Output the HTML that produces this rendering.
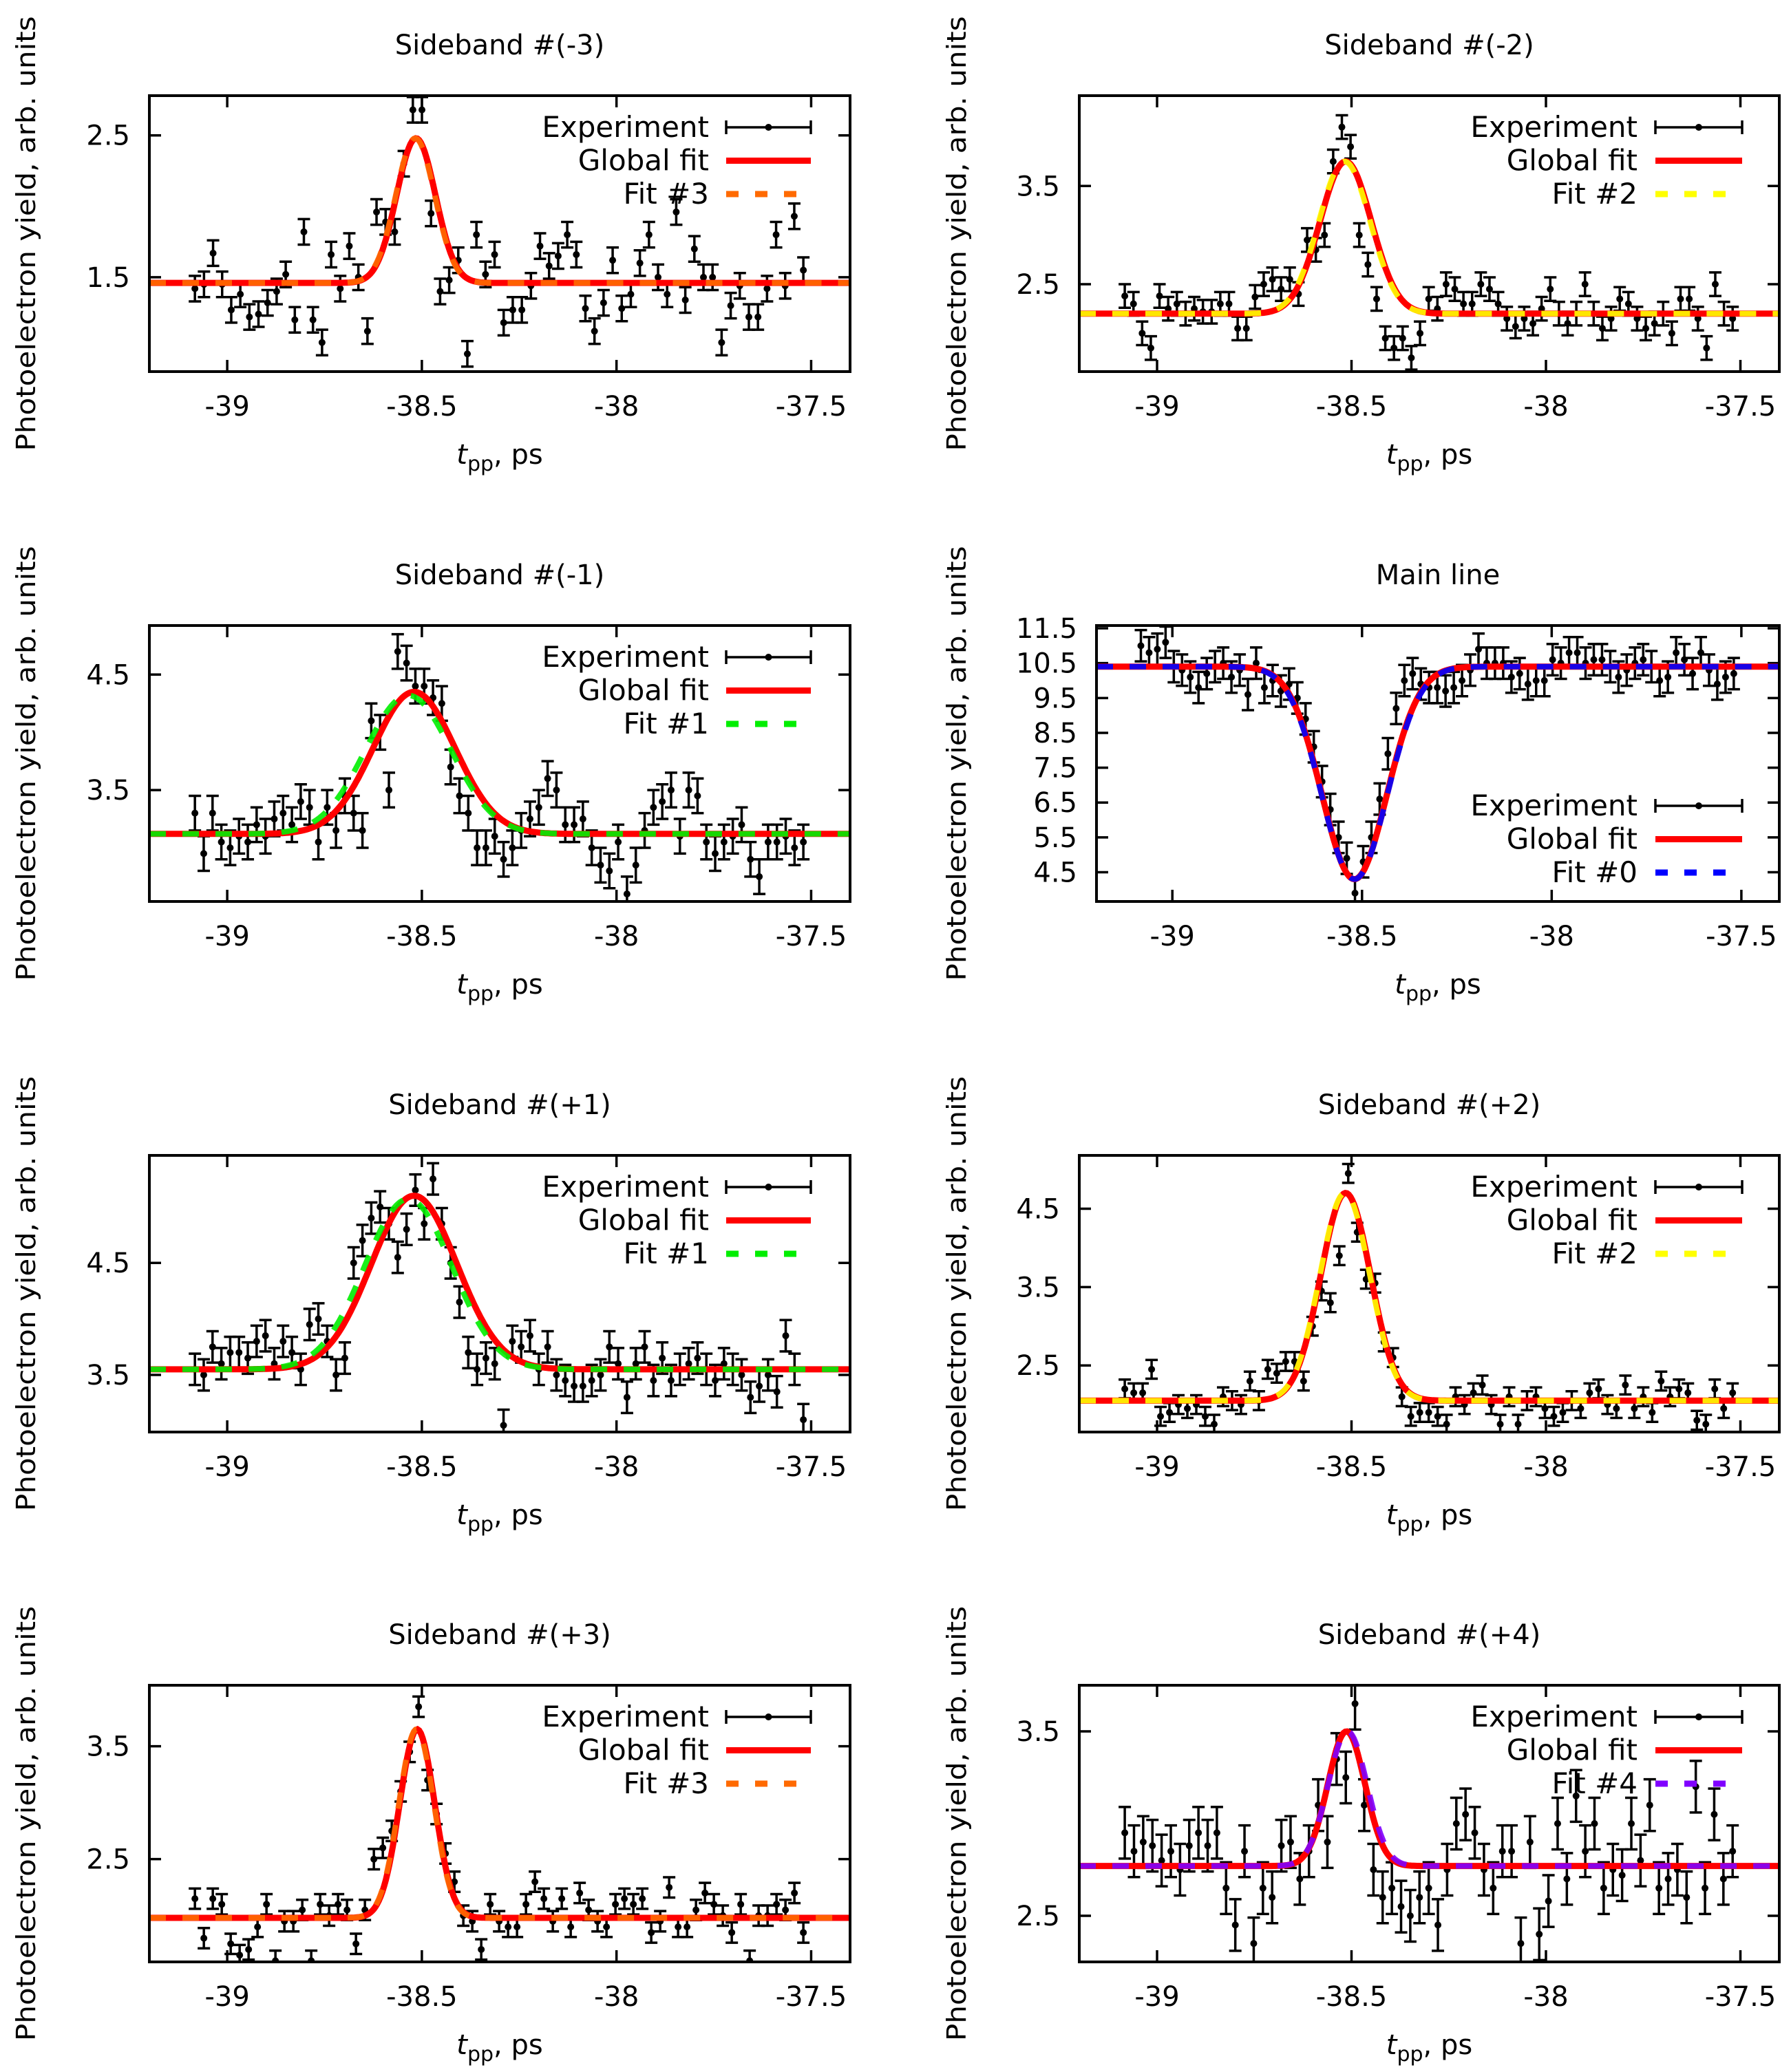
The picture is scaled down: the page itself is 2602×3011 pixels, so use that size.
<!DOCTYPE html>
<html><head><meta charset="utf-8"><title>Sideband fits</title>
<style>
html,body{margin:0;padding:0;background:#fff;}
svg{display:block;font-family:"DejaVu Sans","Liberation Sans",sans-serif;}
</style></head>
<body>
<svg id="fig" width="2602" height="3011" viewBox="0 0 2602 3011" xmlns="http://www.w3.org/2000/svg"></svg>
<script>
// ---- data ----
const titles = ["Sideband #(-3)","Sideband #(-2)","Sideband #(-1)","Main line","Sideband #(+1)","Sideband #(+2)","Sideband #(+3)","Sideband #(+4)"];
const fitLabels = ["Fit #3","Fit #2","Fit #1","Fit #0","Fit #1","Fit #2","Fit #3","Fit #4"];
const fitColors = ["#ff6a00","#ffff00","#00ee00","#0000ff","#00ee00","#ffff00","#ff6a00","#8000ff"];
const xTickLabels = [-39,-38.5,-38,-37.5];
const yTickLabels = [[1.5,2.5],[2.5,3.5],[3.5,4.5],[4.5,5.5,6.5,7.5,8.5,9.5,10.5,11.5],[3.5,4.5],[2.5,3.5,4.5],[2.5,3.5],[2.5,3.5]];
const yRanges = [[0.835,2.78],[1.61,4.42],[2.535,4.925],[3.66,11.58],[2.99,5.46],[1.65,5.18],[1.59,4.04],[2.25,3.75]];
const xRange = [-39.2,-37.4];
const xStart = -39.083, xEnd = -37.52;
const errs = [0.09,0.12,0.15,0.45,0.14,0.12,0.09,0.14];
// global fit: base, amplitude, centre, sigma
const globalBase = [1.46,2.2,3.12,10.4,3.55,2.05,1.98,2.77];
const globalAmp  = [1.02,1.55,1.23,-6.1,1.55,2.65,1.67,0.73];
const globalCen  = [-38.515,-38.515,-38.52,-38.52,-38.52,-38.515,-38.512,-38.513];
const globalSig  = [0.05,0.066,0.105,0.085,0.11,0.064,0.045,0.048];
// individual fit
const fitBase = [1.46,2.2,3.12,10.4,3.55,2.05,1.98,2.77];
const fitAmp  = [1.02,1.55,1.2,-6.1,1.52,2.65,1.67,0.73];
const fitCen  = [-38.517,-38.518,-38.535,-38.52,-38.535,-38.517,-38.514,-38.51];
const fitSig  = [0.05,0.066,0.11,0.086,0.112,0.064,0.045,0.05];
const d0 = [1.42,1.45,1.67,1.45,1.27,1.38,1.22,1.24,1.32,1.40,1.52,1.20,1.82,1.20,1.04,1.66,1.42,1.72,1.50,1.12,1.96,1.89,1.82,2.3,2.68,2.68,1.95,1.40,1.48,1.62,0.96,1.80,1.52,1.66,1.18,1.27,1.27,1.44,1.72,1.58,1.65,1.80,1.66,1.28,1.12,1.32,1.62,1.28,1.38,1.60,1.80,1.50,1.38,1.96,1.34,1.70,1.50,1.50,1.04,1.30,1.44,1.22,1.22,1.42,1.80,1.44,1.93,1.55];
const d1 = [2.38,2.3,2.0,1.85,2.38,2.25,2.3,2.2,2.25,2.22,2.22,2.3,2.3,2.05,2.05,2.37,2.5,2.55,2.45,2.55,2.4,2.95,2.85,3.0,3.75,4.1,3.9,3.0,2.7,2.35,1.95,1.85,1.95,1.75,2.0,2.35,2.25,2.5,2.45,2.3,2.3,2.5,2.45,2.3,2.15,2.07,2.15,2.1,2.25,2.45,2.2,2.1,2.2,2.5,2.2,2.05,2.15,2.35,2.3,2.15,2.05,2.1,2.2,2.0,2.35,2.35,2.15,1.85,2.5,2.2,2.15];
const d2 = [3.3,2.95,3.3,3.05,3.0,3.1,3.05,3.2,3.1,3.25,3.3,3.2,3.4,3.35,3.05,3.35,3.15,3.45,3.3,3.15,4.1,4.0,3.5,4.7,4.6,4.4,4.4,4.3,4.25,3.7,3.45,3.3,3.0,3.0,3.1,2.9,3.0,3.15,3.25,3.35,3.6,3.5,3.2,3.2,3.25,3.0,2.85,2.8,3.05,2.6,2.85,3.15,3.35,3.4,3.5,3.1,3.5,3.45,3.05,2.95,3.05,3.1,3.2,2.9,2.75,3.05,3.05,3.1,3.0,3.05];
const d3 = [11.0,10.8,10.9,11.1,10.4,10.3,10.1,9.8,10.2,10.4,10.5,10.1,10.3,9.6,10.5,9.8,10.0,9.7,9.9,9.5,8.9,8.1,7.1,6.3,5.5,4.9,3.9,4.8,5.5,6.6,7.9,9.2,10.0,10.2,9.9,9.8,9.8,9.7,9.8,10.0,10.3,10.9,10.5,10.5,10.5,10.1,10.2,9.9,10.0,10.0,10.6,10.5,10.8,10.8,10.5,10.6,10.6,10.4,10.1,10.3,10.5,10.6,10.4,10.0,10.1,10.8,10.6,10.2,10.8,10.3,9.9,10.1,10.2];
const d4 = [3.55,3.5,3.75,3.6,3.7,3.7,3.65,3.8,3.85,3.6,3.8,3.7,3.55,3.95,4.0,3.8,3.5,3.65,4.5,4.7,4.9,5.0,4.85,4.55,4.8,5.15,4.85,5.25,4.85,4.5,4.15,3.7,3.55,3.65,3.6,3.05,3.8,3.75,3.85,3.55,3.75,3.5,3.45,3.4,3.4,3.45,3.5,3.75,3.6,3.3,3.6,3.75,3.45,3.65,3.45,3.55,3.6,3.65,3.55,3.45,3.6,3.55,3.5,3.3,3.4,3.5,3.35,3.85,3.55,3.1];
const d5 = [2.2,2.15,2.15,2.45,1.85,1.9,2.0,1.95,2.0,1.85,1.75,2.1,2.05,2.0,2.3,2.05,2.45,2.4,2.55,2.55,2.3,3.0,3.45,3.3,3.9,4.95,4.2,3.6,3.55,2.8,2.6,2.1,1.85,1.9,1.9,1.85,1.75,2.1,2.0,2.15,2.25,2.0,1.75,2.1,1.75,2.05,2.1,1.95,1.85,1.9,2.05,1.95,2.15,2.2,2.0,1.95,2.25,1.95,2.1,1.9,2.3,2.1,2.2,2.15,1.8,1.75,2.2,1.95,2.15];
const d6 = [2.15,1.8,2.15,2.1,1.75,1.65,1.7,1.9,2.1,1.6,1.95,1.95,2.05,1.6,2.1,2.0,2.1,2.05,1.75,2.05,2.5,2.6,2.75,3.1,3.45,3.85,3.2,2.9,2.55,2.3,2.0,1.95,1.7,2.1,1.95,1.9,1.9,2.1,2.3,2.15,1.95,2.15,1.9,2.2,2.05,1.95,1.9,2.1,2.15,2.1,2.15,1.85,1.95,2.25,1.9,1.9,2.05,2.2,2.1,2.0,1.85,2.1,1.6,2.0,2.0,2.1,2.05,2.2,1.85];
const d7 = [2.95,2.85,2.9,2.88,2.8,2.85,2.75,2.88,2.95,2.88,2.95,2.65,2.45,2.85,2.35,2.65,2.6,2.88,2.9,2.7,2.85,3.1,2.9,3.35,3.25,3.65,3.1,2.75,2.6,2.65,2.55,2.5,2.6,2.65,2.45,2.75,3.0,3.05,2.95,2.75,2.65,2.85,2.85,2.35,2.9,2.4,2.58,3.0,2.7,3.15,2.85,3.0,2.65,2.75,2.72,3.0,2.8,3.1,2.65,2.7,2.75,2.6,3.2,2.65,3.05,2.7,2.85];
const datasets = [d0,d1,d2,d3,d4,d5,d6,d7];

// ---- layout ----
const NS = "http://www.w3.org/2000/svg";
const svg = document.getElementById('fig');
function mk(tag, attrs, parent){ const e=document.createElementNS(NS,tag); for(const k in attrs) e.setAttribute(k,attrs[k]); (parent||svg).appendChild(e); return e; }
const colL=[217,1235], colR=[1568,2585], colMain=[1593,2585];
const rowTB=[[139,540],[909,1310],[1679,2081],[2449,2851]];
const FS=40;

for(let p=0;p<8;p++){
  const row=Math.floor(p/2), col=p%2;
  const [x0,x1] = p===3?colMain:(col?colR:colL);
  const [y0,y1] = rowTB[row];
  const [ymin,ymax] = yRanges[p];
  const X = v => x0+(v-xRange[0])/(xRange[1]-xRange[0])*(x1-x0);
  const Y = v => y1-(v-ymin)/(ymax-ymin)*(y1-y0);
  const g = mk('g',{});
  
  
  const t=mk('text',{x:(x0+x1)/2,y:y0-60,'text-anchor':'middle','font-size':FS},g); t.textContent=titles[p];
   
  // y label
  const lx = col?1390:38, lcy=(y0+y1)/2;
  const yl=mk('text',{x:lx,y:lcy,'text-anchor':'middle','font-size':38,transform:`rotate(-90 ${lx} ${lcy})`,'dominant-baseline':'central',textLength:632,lengthAdjust:'spacingAndGlyphs'},g);
  yl.textContent='Photoelectron yield, arb. units';
   
  // x label
  const xl=mk('text',{x:(x0+x1)/2,y:y1+134,'text-anchor':'middle','font-size':FS},g);
  const ti=mk('tspan',{'font-style':'italic'},xl); ti.textContent='t';
  const ts=mk('tspan',{'font-size':30,dy:10},xl); ts.textContent='pp';
  const tr=mk('tspan',{dy:-10},xl); tr.textContent=', ps';
   
  // ticks
  xTickLabels.forEach(v=>{
    const xx=X(v);
    mk('line',{x1:xx,x2:xx,y1:y1,y2:y1-17,stroke:'#000','stroke-width':3.5},g);
    mk('line',{x1:xx,x2:xx,y1:y0,y2:y0+17,stroke:'#000','stroke-width':3.5},g);
    const tl=mk('text',{x:xx,y:y1+64,'text-anchor':'middle','font-size':FS},g); tl.textContent=String(v);
     
  });
  yTickLabels[p].forEach(v=>{
    const yy=Y(v);
    mk('line',{x1:x0,x2:x0+17,y1:yy,y2:yy,stroke:'#000','stroke-width':3.5},g);
    mk('line',{x1:x1,x2:x1-17,y1:yy,y2:yy,stroke:'#000','stroke-width':3.5},g);
    const tl=mk('text',{x:x0-28,y:yy+14,'text-anchor':'end','font-size':FS},g); tl.textContent=String(v);
     
  });
  // clip
  const cp=mk('clipPath',{id:'c'+p},g); mk('rect',{x:x0,y:y0,width:x1-x0,height:y1-y0},cp);
  const plot=mk('g',{'clip-path':`url(#c${p})`},g);
  // data
  const d=datasets[p], n=d.length, step=(xEnd-xStart)/(n-1), e=errs[p];
  const pts=mk('g',{},plot);
   
  d.forEach((v,i)=>{
    const xx=X(xStart+i*step), ya=Y(v+e), yb=Y(v-e);
    const pe=mk('path',{d:`M${xx},${ya}V${yb}M${xx-9},${ya}H${xx+9}M${xx-9},${yb}H${xx+9}`,stroke:'#000','stroke-width':3.5,fill:'none'},pts);
     
    const c=mk('circle',{cx:xx,cy:Y(v),r:5,fill:'#000'},pts);
     
  });
  // curves
  function curve(b,a,c,s){ let dd=''; for(let k=0;k<=400;k++){ const xv=xRange[0]+(xRange[1]-xRange[0])*k/400; const yv=b+a*Math.exp(-Math.pow(xv-c,2)/(2*s*s)); dd+=(k?'L':'M')+X(xv).toFixed(1)+','+Y(yv).toFixed(1);} return dd; }
  const gl=mk('path',{d:curve(globalBase[p],globalAmp[p],globalCen[p],globalSig[p]),stroke:'#ff0000','stroke-width':9,fill:'none'},plot);
   
  const fl=mk('path',{d:curve(fitBase[p],fitAmp[p],fitCen[p],fitSig[p]),stroke:fitColors[p],'stroke-width':8,fill:'none','stroke-dasharray':'24,24','stroke-opacity':0.9},plot);
   
  // box
  const bx=mk('rect',{x:x0,y:y0,width:x1-x0,height:y1-y0,fill:'none',stroke:'#000','stroke-width':4},g);
   
  // legend
  const tx = col?2379:1030, s0=col?2405:1055, s1=col?2531:1178;
  const ly0 = p===3 ? y0+262 : y0+46;
  const leg=mk('g',{},g);
   
  const names=['Experiment','Global fit',fitLabels[p]];
  names.forEach((nm,k)=>{
    const yy=ly0+k*48.5;
    const lt=mk('text',{x:tx,y:yy+14,'text-anchor':'end','font-size':42},leg); lt.textContent=nm;
     
    if(k===0){
      mk('path',{d:`M${s0},${yy}H${s1}M${s0},${yy-10}V${yy+10}M${s1},${yy-10}V${yy+10}`,stroke:'#000','stroke-width':3.5,fill:'none'},leg);
      mk('circle',{cx:(s0+s1)/2,cy:yy,r:5,fill:'#000'},leg);
    } else if(k===1){
      mk('line',{x1:s0,x2:s1,y1:yy,y2:yy,stroke:'#ff0000','stroke-width':9},leg);
    } else {
      mk('line',{x1:s0,x2:s1,y1:yy,y2:yy,stroke:fitColors[p],'stroke-width':9,'stroke-dasharray':'18,24'},leg);
    }
  });
}
</script>
</body></html>
